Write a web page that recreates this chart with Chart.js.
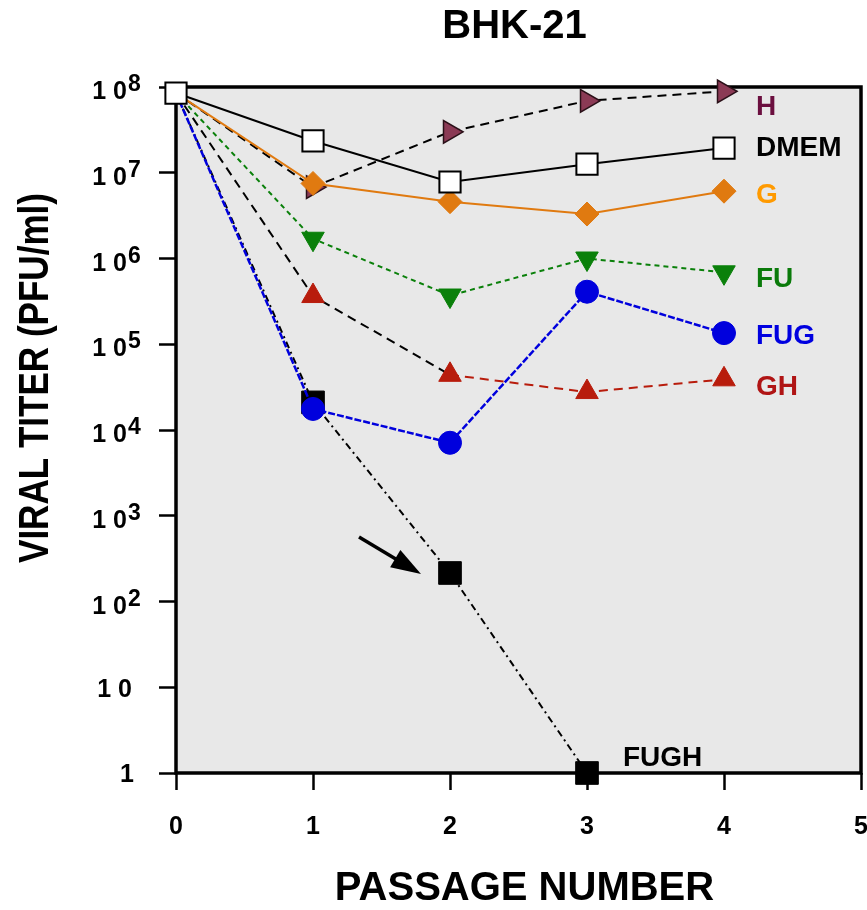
<!DOCTYPE html>
<html>
<head>
<meta charset="utf-8">
<title>BHK-21</title>
<script src="https://cdn.jsdelivr.net/npm/chart.js@4.4.1/dist/chart.umd.min.js"></script>
<style>
  body { margin: 0; background: #fff; }
</style>
</head>
<body>
<canvas id="myChart" width="867" height="910"></canvas>
<script>
// Título viral (PFU/ml) por número de pase en células BHK-21
const pases = [0, 1, 2, 3, 4];
const ticksY = [1, 10, 1e2, 1e3, 1e4, 1e5, 1e6, 1e7, 1e8];

const dmem = [8.5e7, 2.35e7, 7.8e6, 1.26e7, 1.94e7];
const g    = [8.5e7, 7.5e6, 4.6e6, 3.3e6, 6.1e6];
const h    = [8.5e7, 6.8e6, 3.0e7, 6.9e7, 8.9e7];
const fu   = [8.5e7, 1.7e6, 3.7e5, 1.0e6, 6.9e5];
const fug  = [8.5e7, 1.76e4, 7.1e3, 4.1e5, 1.35e5];
const fugh = [8.5e7, 2.1e4, 2.15e2, 1, null];
const gh   = [8.5e7, 3.65e5, 4.4e4, 2.77e4, 3.9e4];

const fuente = "'Liberation Sans', Arial, Helvetica, sans-serif";

// Etiquetas al final de cada serie (desplazamiento en px respecto al último punto)
const etiquetas = {
  'H':    { color: '#6b0f3f', dx: 32, dy: 16 },
  'DMEM': { color: '#000000', dx: 32, dy: 0 },
  'G':    { color: '#ff9a00', dx: 32, dy: 4 },
  'FU':   { color: '#0a7a0a', dx: 32, dy: 7 },
  'FUG':  { color: '#0000e0', dx: 32, dy: 3 },
  'GH':   { color: '#b01414', dx: 32, dy: 8 },
  'FUGH': { color: '#000000', dx: 36, dy: -15 }
};

function puntos(valores) {
  return pases.map((p, i) => ({ x: p, y: valores[i] }));
}

// radio 0 en el pase 0 para que solo se vea el cuadro de DMEM
function radios(r) {
  return pases.map((p, i) => (i === 0 ? 0 : r));
}

// Fondo gris, marco y textos dibujados a mano
const marcoPlugin = {
  id: 'marco',
  beforeDraw(chart) {
    const { ctx, chartArea: a } = chart;
    ctx.save();
    ctx.fillStyle = '#e8e8e8';
    ctx.fillRect(a.left, a.top, a.right - a.left, a.bottom - a.top);
    ctx.restore();
  },
  beforeDatasetsDraw(chart) {
    const { ctx, chartArea: a } = chart;
    ctx.save();
    ctx.strokeStyle = '#000';
    ctx.lineWidth = 3.5;
    ctx.strokeRect(a.left, a.top, a.right - a.left, a.bottom - a.top);
    ctx.restore();
  },
  afterDraw(chart) {
    const { ctx, chartArea: a, scales } = chart;
    const sx = scales.x, sy = scales.y;
    ctx.save();
    ctx.fillStyle = '#000';

    // etiquetas del eje Y con exponente
    ticksY.forEach(v => {
      const py = sy.getPixelForValue(v);
      const e = Math.round(Math.log10(v));
      ctx.textAlign = 'right';
      ctx.textBaseline = 'alphabetic';
      ctx.font = 'bold 25px ' + fuente;
      if (e === 0) {
        ctx.fillText('1', a.left - 42, py + 9);
      } else if (e === 1) {
        ctx.fillText('1 0', a.left - 44, py + 10);
      } else {
        ctx.fillText('1 0', a.left - 49, py + 12);
        ctx.textAlign = 'left';
        ctx.font = 'bold 23px ' + fuente;
        ctx.fillText(String(e), a.left - 48, py + 4);
      }
    });

    // título
    ctx.textAlign = 'center';
    ctx.textBaseline = 'middle';
    ctx.font = 'bold 40px ' + fuente;
    ctx.fillText('BHK-21', (a.left + a.right) / 2 - 4, 27);

    // título eje X
    ctx.fillText('PASSAGE NUMBER', (a.left + a.right) / 2 + 6, a.bottom + 116);

    // título eje Y (girado)
    ctx.save();
    ctx.translate(36, a.top + 291);
    ctx.rotate(-Math.PI / 2);
    ctx.font = 'bold 42px ' + fuente;
    let texto = 'VIRAL TITER (PFU/ml)';
    let ancho = ctx.measureText(texto).width;
    ctx.scale(370 / ancho, 1);
    ctx.fillText(texto, 0, 0);
    ctx.restore();

    // nombres de las series
    ctx.textAlign = 'left';
    ctx.font = 'bold 28px ' + fuente;
    chart.data.datasets.forEach((ds, i) => {
      const meta = chart.getDatasetMeta(i);
      let ultimo = -1;
      ds.data.forEach((d, j) => { if (d.y !== null) ultimo = j; });
      const el = meta.data[ultimo];
      const et = etiquetas[ds.label];
      ctx.fillStyle = et.color;
      ctx.fillText(ds.label, el.x + et.dx, el.y + et.dy);
    });

    // flecha hacia el punto FUGH del pase 2
    const px = sx.getPixelForValue(2);
    const py = sy.getPixelForValue(fugh[2]);
    const x1 = px - 91, y1 = py - 36;
    const x2 = px - 29, y2 = py + 1;
    const ang = Math.atan2(y2 - y1, x2 - x1);
    const largo = 30, medio = 10;
    const bx = x2 - Math.cos(ang) * largo, by = y2 - Math.sin(ang) * largo;
    ctx.strokeStyle = '#000';
    ctx.fillStyle = '#000';
    ctx.lineWidth = 3.5;
    ctx.beginPath();
    ctx.moveTo(x1, y1);
    ctx.lineTo(bx + Math.cos(ang) * 4, by + Math.sin(ang) * 4);
    ctx.stroke();
    ctx.beginPath();
    ctx.moveTo(x2, y2);
    ctx.lineTo(bx + Math.sin(ang) * medio, by - Math.cos(ang) * medio);
    ctx.lineTo(bx - Math.sin(ang) * medio, by + Math.cos(ang) * medio);
    ctx.closePath();
    ctx.fill();

    ctx.restore();
  }
};

document.addEventListener('DOMContentLoaded', function() {
  // Series del gráfico (la primera queda encima)
  let dataChart = {
    datasets: [
      {
        label: 'DMEM', data: puntos(dmem),
        borderColor: '#000', borderWidth: 2,
        pointStyle: 'rect', pointRadius: 15,
        pointBackgroundColor: '#fff', pointBorderColor: '#000', pointBorderWidth: 2
      },
      {
        label: 'G', data: puntos(g),
        borderColor: '#e07a10', borderWidth: 2,
        pointStyle: 'rectRot', pointRadius: radios(12),
        pointBackgroundColor: '#e07a10', pointBorderColor: '#e07a10', pointBorderWidth: 1
      },
      {
        label: 'H', data: puntos(h),
        borderColor: '#000', borderWidth: 2, borderDash: [9, 6],
        pointStyle: 'triangle', pointRotation: 90, pointRadius: radios(13),
        pointBackgroundColor: '#8b3a55', pointBorderColor: '#2a1018', pointBorderWidth: 1.5
      },
      {
        label: 'FU', data: puntos(fu),
        borderColor: '#0a800a', borderWidth: 2, borderDash: [5, 4],
        pointStyle: 'triangle', pointRotation: 180, pointRadius: radios(13),
        pointBackgroundColor: '#0a800a', pointBorderColor: '#0a800a', pointBorderWidth: 1
      },
      {
        label: 'FUG', data: puntos(fug),
        borderColor: '#0000dd', borderWidth: 2.5, borderDash: [7, 2],
        pointStyle: 'circle', pointRadius: radios(11.5),
        pointBackgroundColor: '#0000dd', pointBorderColor: '#0000dd', pointBorderWidth: 1
      },
      {
        label: 'FUGH', data: puntos(fugh),
        borderColor: '#000', borderWidth: 2, borderDash: [7, 4, 2, 4],
        pointStyle: 'rect', pointRadius: radios(16),
        pointBackgroundColor: '#000', pointBorderColor: '#000', pointBorderWidth: 1
      },
      {
        label: 'GH', data: puntos(gh),
        borderColor: '#000', borderWidth: 2, borderDash: [9, 6],
        segment: {
          borderColor: c => (c.p0DataIndex >= 2 ? '#b81c0c' : '#000')
        },
        pointStyle: 'triangle', pointRadius: radios(13),
        pointBackgroundColor: '#b81c0c', pointBorderColor: '#b81c0c', pointBorderWidth: 1
      }
    ]
  };

  let ejeGrid = {
    drawOnChartArea: false,
    drawTicks: true,
    tickLength: 17,
    tickWidth: 2.5,
    tickColor: '#000'
  };

  // Opciones de configuración del gráfico
  let options = {
    responsive: false,
    animation: false,
    layout: {
      autoPadding: false,
      padding: { top: 87, right: 6, bottom: 0, left: 0 }
    },
    datasets: { line: { clip: false, tension: 0, fill: false } },
    plugins: {
      legend: { display: false },
      tooltip: { enabled: false }
    },
    scales: {
      x: {
        type: 'linear',
        min: 0,
        max: 5,
        afterFit: s => {
          s.height = 137;
          s.paddingLeft = 0;
          s.paddingRight = 0;
        },
        ticks: {
          stepSize: 1,
          color: '#000',
          padding: 25,
          font: { family: fuente, size: 25, weight: 'bold', lineHeight: 1 }
        },
        grid: ejeGrid,
        border: { display: false }
      },
      y: {
        type: 'logarithmic',
        min: 1,
        max: 1e8,
        afterFit: s => {
          s.width = 176;
          s.paddingTop = 0;
          s.paddingBottom = 0;
        },
        afterBuildTicks: s => { s.ticks = ticksY.map(v => ({ value: v })); },
        ticks: { display: false },
        grid: ejeGrid,
        border: { display: false }
      }
    }
  };

  let ctx = document.getElementById('myChart').getContext('2d');

  let myChart = new Chart(ctx, {
    type: 'line',
    data: dataChart,
    options: options,
    plugins: [marcoPlugin]
  });
});
</script>
</body>
</html>
